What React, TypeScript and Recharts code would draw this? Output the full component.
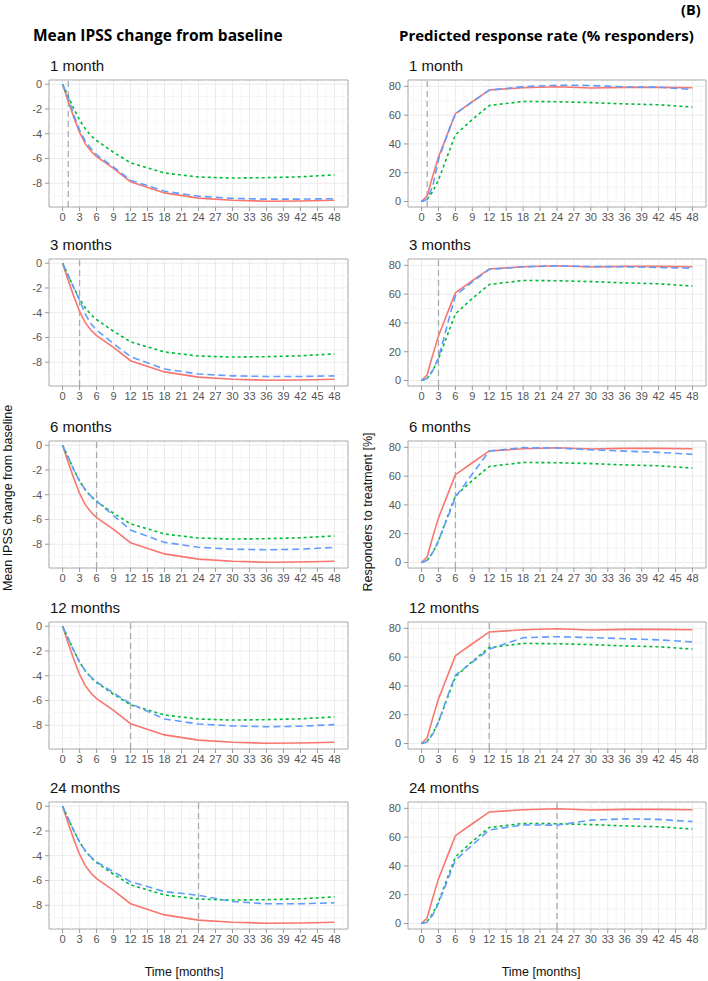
import { LineChart, Line, XAxis, YAxis, CartesianGrid, ReferenceLine, ReferenceArea } from 'recharts';

const months = [0, 1, 2, 3, 4, 5, 6, 9, 12, 18, 24, 30, 36, 42, 48];

// Mean IPSS change from baseline
const ipssRed = [0, -1.4, -2.7, -3.9, -4.8, -5.4, -5.85, -6.8, -7.88, -8.78, -9.2, -9.38, -9.45, -9.43, -9.38];
const ipssGreen = [0, -1.0, -2.0, -2.9, -3.6, -4.15, -4.55, -5.5, -6.35, -7.17, -7.5, -7.58, -7.55, -7.48, -7.33];
const ipssBlue1 = [0, -1.1, -2.5, -3.7, -4.6, -5.2, -5.7, -6.7, -7.75, -8.65, -9.05, -9.22, -9.28, -9.28, -9.25];
const ipssBlue3 = [0, -1.0, -2.0, -3.0, -4.1, -4.9, -5.4, -6.5, -7.55, -8.55, -8.95, -9.1, -9.15, -9.15, -9.1];
const ipssBlue6 = [0, -1.0, -2.0, -2.9, -3.6, -4.1, -4.5, -5.7, -6.85, -7.85, -8.25, -8.4, -8.45, -8.4, -8.25];
const ipssBlue12 = [0, -1.0, -2.0, -2.9, -3.6, -4.1, -4.5, -5.4, -6.25, -7.5, -7.9, -8.05, -8.12, -8.08, -7.95];
const ipssBlue24 = [0, -1.0, -2.0, -2.9, -3.6, -4.1, -4.5, -5.3, -6.1, -6.9, -7.2, -7.7, -7.88, -7.88, -7.8];

// Predicted response rate (% responders)
const respRed = [0, 4, 18, 31, 41, 51, 61, 69.3, 77.5, 79, 79.7, 78.8, 79.3, 79.3, 79];
const respGreen = [0, 1.5, 7, 15, 25.5, 36, 46.3, 57, 66.7, 69.5, 69.3, 68.7, 67.8, 67.2, 65.6];
const respBlue1 = [0, 1.5, 11, 29, 40, 51, 61, 69.3, 77.3, 79.8, 80.8, 80.6, 79.6, 79.4, 77.8];
const respBlue3 = [0, 1.5, 7, 16, 30, 45, 59, 68.5, 77.2, 79, 79.6, 79.2, 79, 78.5, 78];
const respBlue6 = [0, 1.5, 7, 15, 25, 35, 45.3, 61.5, 77.5, 79.8, 79.5, 78.3, 77.4, 76.5, 75.2];
const respBlue12 = [0, 1.2, 6.5, 15, 26, 37, 47.5, 56.5, 65.5, 73.5, 74.2, 73.6, 72.8, 72, 70.6];
const respBlue24 = [0, 1, 6, 14, 24, 34, 44, 54.5, 65, 68.5, 68.3, 71.8, 72.7, 72.3, 70.8];

const panelTitles = ['1 month', '3 months', '6 months', '12 months', '24 months'];
const switchMonths = [1, 3, 6, 12, 24];
const ipssBlues = [ipssBlue1, ipssBlue3, ipssBlue6, ipssBlue12, ipssBlue24];
const respBlues = [respBlue1, respBlue3, respBlue6, respBlue12, respBlue24];

const xTicks = [0, 3, 6, 9, 12, 15, 18, 21, 24, 27, 30, 33, 36, 39, 42, 45, 48];
const xMinor = [-1.5, 1.5, 4.5, 7.5, 10.5, 13.5, 16.5, 19.5, 22.5, 25.5, 28.5, 31.5, 34.5, 37.5, 40.5, 43.5, 46.5, 49.5];
const ipssTicks = [-8, -6, -4, -2, 0];
const ipssMinor = [-9, -7, -5, -3, -1];
const respTicks = [0, 20, 40, 60, 80];
const respMinor = [10, 30, 50, 70];

const X_DOMAIN: [number, number] = [-2.4, 50.4];
const IPSS_DOMAIN: [number, number] = [-9.92, 0.34];
const RESP_DOMAIN: [number, number] = [-3.8, 84.4];

const panelTops = [80, 259, 441, 622, 802];
const PLOT_H = 127;
const AXIS_H = 20;
const PAD_TOP = 8; // room for the top tick label

const RED = '#F8766D';
const GREEN = '#00BA38';
const BLUE = '#619CFF';
const TICK = { fontSize: 11, fill: '#555', fontFamily: 'Liberation Sans, Arial, sans-serif' };

function Panel({
  title, switchAt, red, green, blue, yDomain, yTicks, yMinor, left, top, axisWidth, rightMargin,
}: {
  title: string;
  switchAt: number;
  red: number[];
  green: number[];
  blue: number[];
  yDomain: [number, number];
  yTicks: number[];
  yMinor: number[];
  left: number;
  top: number;
  axisWidth: number;
  rightMargin: number;
}) {
  const data = months.map((m, i) => ({ m, red: red[i], green: green[i], blue: blue[i] }));
  return (
    <>
      <div style={{
        position: 'absolute', left: left + axisWidth + 1, top: top - 22, fontSize: 15, lineHeight: '16px',
        fontFamily: 'Liberation Sans, Arial, sans-serif', color: '#111',
      }}>
        {title}
      </div>
      <div style={{ position: 'absolute', left, top: top - PAD_TOP }}>
        <LineChart width={354} height={PLOT_H + AXIS_H + PAD_TOP} data={data}
          margin={{ top: PAD_TOP, right: rightMargin, left: 0, bottom: 0 }}>
          <CartesianGrid stroke="#ebebeb" strokeWidth={1} />
          {xMinor.map(v => (
            <ReferenceLine key={`xm${v}`} x={v} stroke="#f2f2f2" strokeWidth={0.8} />
          ))}
          {yMinor.map(v => (
            <ReferenceLine key={`ym${v}`} y={v} stroke="#f2f2f2" strokeWidth={0.8} />
          ))}
          <XAxis dataKey="m" type="number" domain={X_DOMAIN} ticks={xTicks} interval={0}
            allowDataOverflow height={AXIS_H} axisLine={false} tickSize={4} tickMargin={2}
            tickLine={{ stroke: '#999' }} tick={TICK} />
          <YAxis type="number" domain={yDomain} ticks={yTicks} interval={0} allowDataOverflow
            width={axisWidth} axisLine={false} tickSize={4} tickMargin={3}
            tickLine={{ stroke: '#999' }} tick={TICK} />
          <ReferenceLine x={switchAt} stroke="#aaa" strokeWidth={1.3} strokeDasharray="6 4" />
          <Line dataKey="red" stroke={RED} strokeWidth={1.6} dot={false} isAnimationActive={false} />
          <Line dataKey="green" stroke={GREEN} strokeWidth={1.6} strokeDasharray="3 3" dot={false} isAnimationActive={false} />
          <Line dataKey="blue" stroke={BLUE} strokeWidth={1.6} strokeDasharray="7 4" dot={false} isAnimationActive={false} />
          <ReferenceArea x1={X_DOMAIN[0]} x2={X_DOMAIN[1]} y1={yDomain[0]} y2={yDomain[1]}
            fill="none" stroke="#b0b0b0" strokeWidth={1} />
        </LineChart>
      </div>
    </>
  );
}

export default function App() {
  const heading = {
    position: 'absolute' as const, fontFamily: 'Open Sans, Lato, sans-serif', fontWeight: 700,
    fontSize: 15.5, lineHeight: '20px', color: '#000', whiteSpace: 'nowrap' as const,
  };
  const axisLabel = {
    position: 'absolute' as const, fontFamily: 'Liberation Sans, Arial, sans-serif', fontSize: 12.5,
    lineHeight: '14px', color: '#111', whiteSpace: 'nowrap' as const,
  };
  return (
    <div style={{ position: 'absolute', left: 0, top: 0, width: 708, height: 981, background: '#fff', overflow: 'hidden' }}>
      <div style={{ ...heading, left: 681, top: 0, fontSize: 14.5 }}>(B)</div>
      <div style={{ ...heading, left: 33, top: 25 }}>Mean IPSS change from baseline</div>
      <div style={{ ...heading, left: 399, top: 25, fontSize: 15 }}>Predicted response rate (% responders)</div>

      {panelTitles.map((t, i) => (
        <Panel key={`l${t}`} title={t} switchAt={switchMonths[i]} red={ipssRed} green={ipssGreen}
          blue={ipssBlues[i]} yDomain={IPSS_DOMAIN} yTicks={ipssTicks} yMinor={ipssMinor}
          left={0} top={panelTops[i]} axisWidth={49} rightMargin={6} />
      ))}
      {panelTitles.map((t, i) => (
        <Panel key={`r${t}`} title={t} switchAt={switchMonths[i]} red={respRed} green={respGreen}
          blue={respBlues[i]} yDomain={RESP_DOMAIN} yTicks={respTicks} yMinor={respMinor}
          left={354} top={panelTops[i]} axisWidth={54} rightMargin={2} />
      ))}

      <div style={{ ...axisLabel, left: 8, top: 498, transform: 'translate(-50%, -50%) rotate(-90deg)' }}>
        Mean IPSS change from baseline
      </div>
      <div style={{ ...axisLabel, left: 368, top: 512, transform: 'translate(-50%, -50%) rotate(-90deg)' }}>
        Responders to treatment [%]
      </div>
      <div style={{ ...axisLabel, left: 184, top: 972, transform: 'translate(-50%, -50%)' }}>Time [months]</div>
      <div style={{ ...axisLabel, left: 541, top: 972, transform: 'translate(-50%, -50%)' }}>Time [months]</div>
    </div>
  );
}
